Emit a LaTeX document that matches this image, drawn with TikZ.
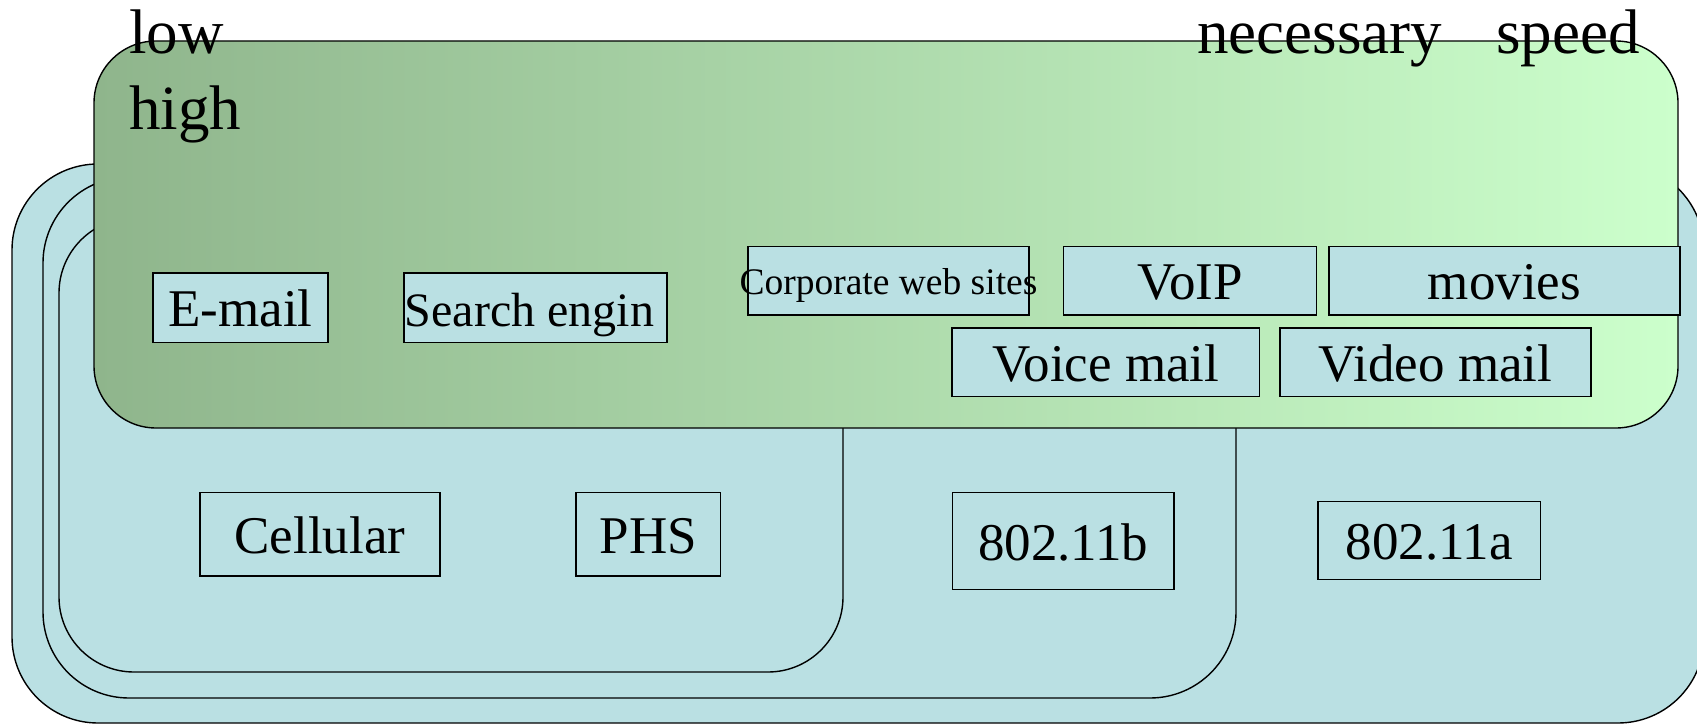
\documentclass[tikz,border=0pt]{standalone}
\usepackage{fontspec}
\setmainfont{Liberation Serif}
\definecolor{paleblue}{RGB}{186,224,227}
\definecolor{greenL}{RGB}{143,181,140}
\definecolor{greenR}{RGB}{204,255,204}
\begin{document}
\begin{tikzpicture}[x=1pt,y=-1pt,
  zone/.style={draw=black,line width=1.4pt,fill=paleblue},
  appzone/.style={draw=black,line width=1.4pt,left color=greenL,right color=greenR,rounded corners=62pt},
  tag/.style={draw=black,line width=1.4pt,fill=paleblue,inner sep=0pt,
    text height=38pt,text depth=0pt,font=\fontsize{53}{60}\selectfont},
  axistext/.style={inner sep=0pt,anchor=base west,font=\fontsize{63}{76}\selectfont}]
\clip (0,0) rectangle (1697,725);

% nested access technologies
\draw[zone,rounded corners=86pt] (12,164) rectangle (1704,723);
\draw[zone,rounded corners=86pt] (43,177) rectangle (1236,698);
\draw[zone,rounded corners=75pt] (59,218) rectangle (843,672);

\node[tag,minimum width=240pt,minimum height=83.3pt] (cell) at (320,534.3) {Cellular};
\node[tag,minimum width=144.5pt,minimum height=83.3pt] (phs) at (648.3,534.3) {PHS};
\node[tag,minimum width=221.3pt,minimum height=96.6pt] (wb) at (1063.3,541) {802.11b};
\node[tag,minimum width=222.5pt,minimum height=77.6pt] (wa) at (1429.3,540.5) {802.11a};

% applications
\draw[appzone] (94,41) rectangle (1678,428);

\node[tag,minimum width=175pt,minimum height=69.5pt] (mail) at (240.5,307.7) {E-mail};
\node[tag,minimum width=263pt,minimum height=69.5pt,font=\fontsize{48}{56}\selectfont,text height=37pt] (search) at (535.5,307.7) {\hspace*{-12pt}Search engin};
\node[tag,minimum width=281pt,minimum height=68.3pt,font=\fontsize{37.5}{44}\selectfont,text height=27pt] (corp) at (888.5,280.8) {\makebox[0pt]{Corporate web sites}};
\node[tag,minimum width=253pt,minimum height=68.3pt] (voip) at (1190.2,280.8) {VoIP};
\node[tag,minimum width=351pt,minimum height=68.3pt] (movies) at (1504.5,280.8) {movies};
\node[tag,minimum width=307.5pt,minimum height=68.7pt] (vmail) at (1105.8,362.3) {Voice mail};
\node[tag,minimum width=311pt,minimum height=68.7pt] (vidmail) at (1435.5,362.3) {Video mail};

% speed axis words
\node[axistext] (low) at (129,53) {low};
\node[axistext] (high) at (129,129) {high};
\node[axistext] (nec) at (1197,53) {necessary};
\node[axistext] (spd) at (1496,53) {speed};
\end{tikzpicture}
\end{document}
